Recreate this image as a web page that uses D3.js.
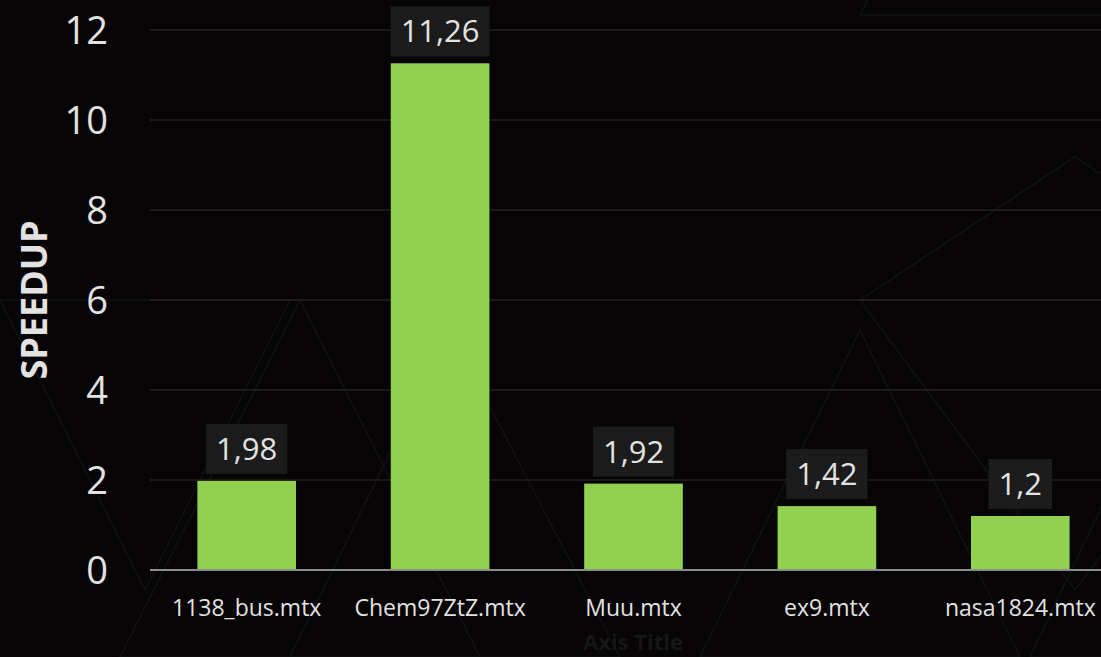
<!DOCTYPE html>
<html>
<head>
<meta charset="utf-8">
<script src="https://cdn.jsdelivr.net/npm/d3@7"></script>
<style>
  html, body { margin: 0; padding: 0; background: #070405; overflow: hidden; }
  svg { display: block; }
</style>
</head>
<body>
<svg id="chart"></svg>
<script>
// chart data
const categories = ["1138_bus.mtx", "Chem97ZtZ.mtx", "Muu.mtx", "ex9.mtx", "nasa1824.mtx"];
const speedup = [1.98, 11.26, 1.92, 1.42, 1.2];
const valueLabels = ["1,98", "11,26", "1,92", "1,42", "1,2"];
const yTicks = [0, 2, 4, 6, 8, 10, 12];

const W = 1101, H = 657;
const margin = { top: 30, right: -16, bottom: 87, left: 150 };
const width = W - margin.left - margin.right;
const height = H - margin.top - margin.bottom;
const font = "'Open Sans', sans-serif";
const txt = "#e2e2e2";

const root = d3.select("#chart").attr("width", W).attr("height", H);

// background with faint triangle pattern
root.append("rect").attr("width", W).attr("height", H).attr("fill", "#070405");
const tri = [
  [[860, 15], [1290, 15], [1075, -420]],
  [[860, 300], [1075, 157], [1290, 300]],
  [[860, 300], [1075, 590], [1290, 300]],
  [[0, 300], [145, 590], [290, 300]],
  [[120, 657], [300, 300], [480, 657]],
  [[290, 657], [450, 330], [620, 657]],
  [[700, 657], [860, 330], [1020, 657]],
  [[1030, 657], [1200, 300], [1370, 657]]
];
root.append("g").selectAll("path").data(tri).join("path")
  .attr("d", d => d3.line()(d) + "Z")
  .attr("fill", "none").attr("stroke", "#111111").attr("stroke-width", 1.5);

const svg = root.append("g").attr("transform", `translate(${margin.left},${margin.top})`);

const x = d3.scaleBand().domain(categories).range([0, width]).paddingInner(0.49).paddingOuter(0.245);
const y = d3.scaleLinear().domain([0, 12]).range([height, 0]);

// gridlines
svg.append("g").selectAll("line").data(yTicks.slice(1)).join("line")
  .attr("x1", 0).attr("x2", width)
  .attr("y1", d => y(d)).attr("y2", d => y(d))
  .attr("stroke", "#302d2e").attr("stroke-width", 1);

// y axis labels
const yAxis = svg.append("g").call(d3.axisLeft(y).tickValues(yTicks).tickSize(0).tickPadding(42));
yAxis.select(".domain").remove();
yAxis.selectAll("text").attr("fill", txt).attr("font-size", 38).attr("font-family", font)
  .attr("dy", "0.36em");

// bars
svg.append("g").selectAll("rect").data(speedup).join("rect")
  .attr("x", (d, i) => x(categories[i]))
  .attr("y", d => y(d))
  .attr("width", x.bandwidth())
  .attr("height", d => y(0) - y(d))
  .attr("fill", "#92d050");

// baseline
svg.append("line").attr("x1", 0).attr("x2", width).attr("y1", y(0)).attr("y2", y(0))
  .attr("stroke", "#8c8c8c").attr("stroke-width", 2);

// value labels with dark boxes
const lab = svg.append("g").selectAll("g").data(speedup).join("g")
  .attr("transform", (d, i) => `translate(${x(categories[i]) + x.bandwidth() / 2},${y(d) - 7})`);
const boxes = lab.append("rect").attr("y", -50).attr("height", 50).attr("fill", "#1b1b1b");
const vt = lab.append("text")
  .attr("y", -14)
  .attr("text-anchor", "middle")
  .attr("fill", txt).attr("font-size", 31).attr("font-family", font)
  .text((d, i) => valueLabels[i]);
vt.each(function (d, i) {
  const w = this.getComputedTextLength() + 20;
  d3.select(boxes.nodes()[i]).attr("x", -w / 2).attr("width", w);
});

// category labels
svg.append("g").selectAll("text").data(categories).join("text")
  .attr("x", d => x(d) + x.bandwidth() / 2)
  .attr("y", height + 46)
  .attr("text-anchor", "middle")
  .attr("fill", txt).attr("font-size", 23).attr("font-family", font)
  .text(d => d);

// axis titles
root.append("text")
  .attr("transform", "translate(47,300) rotate(-90)")
  .attr("text-anchor", "middle")
  .attr("fill", txt).attr("font-size", 36).attr("font-weight", "bold").attr("font-family", font)
  .text("SPEEDUP");
root.append("text")
  .attr("x", 633).attr("y", 650)
  .attr("text-anchor", "middle")
  .attr("fill", "#161616").attr("font-size", 22).attr("font-weight", "bold").attr("font-family", font)
  .text("Axis Title");
</script>
</body>
</html>
